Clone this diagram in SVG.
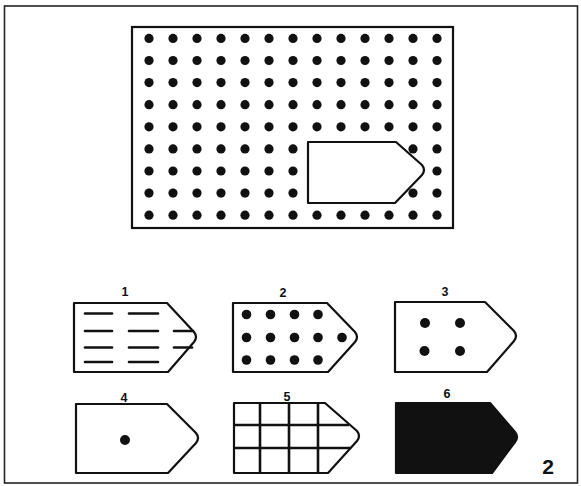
<svg xmlns="http://www.w3.org/2000/svg" width="581" height="486" viewBox="0 0 581 486">
<style>
.frame{fill:none;stroke:#222;stroke-width:1.6}
.box{fill:#fff;stroke:#111;stroke-width:2.2}
.shape{fill:#fff;stroke:#111;stroke-width:2.2;stroke-linejoin:round}
.solid{fill:#111;stroke:#111;stroke-width:2.2;stroke-linejoin:round}
.dot{fill:#111}
.dash{stroke:#111;stroke-width:2.6;stroke-linecap:round}
.grid{stroke:#111;stroke-width:2.6}
.lbl{font-family:"Liberation Sans",Arial,sans-serif;font-weight:bold;font-size:12.5px;fill:#111;text-anchor:middle}
.big{font-family:"Liberation Sans",Arial,sans-serif;font-weight:bold;font-size:21px;fill:#111;text-anchor:middle}
</style>
<rect class="frame" x="4.5" y="6" width="573" height="477"/>
<g id="main-board">
<rect class="box" x="132" y="27" width="321" height="201"/>
<g id="main-dots">
<circle class="dot" cx="149" cy="38.4" r="4.6"/><circle class="dot" cx="173" cy="38.4" r="4.6"/><circle class="dot" cx="197" cy="38.4" r="4.6"/><circle class="dot" cx="221" cy="38.4" r="4.6"/><circle class="dot" cx="245" cy="38.4" r="4.6"/><circle class="dot" cx="269" cy="38.4" r="4.6"/><circle class="dot" cx="293" cy="38.4" r="4.6"/><circle class="dot" cx="317" cy="38.4" r="4.6"/><circle class="dot" cx="341" cy="38.4" r="4.6"/><circle class="dot" cx="365" cy="38.4" r="4.6"/><circle class="dot" cx="389" cy="38.4" r="4.6"/><circle class="dot" cx="413" cy="38.4" r="4.6"/><circle class="dot" cx="437" cy="38.4" r="4.6"/>
<circle class="dot" cx="149" cy="60.5" r="4.6"/><circle class="dot" cx="173" cy="60.5" r="4.6"/><circle class="dot" cx="197" cy="60.5" r="4.6"/><circle class="dot" cx="221" cy="60.5" r="4.6"/><circle class="dot" cx="245" cy="60.5" r="4.6"/><circle class="dot" cx="269" cy="60.5" r="4.6"/><circle class="dot" cx="293" cy="60.5" r="4.6"/><circle class="dot" cx="317" cy="60.5" r="4.6"/><circle class="dot" cx="341" cy="60.5" r="4.6"/><circle class="dot" cx="365" cy="60.5" r="4.6"/><circle class="dot" cx="389" cy="60.5" r="4.6"/><circle class="dot" cx="413" cy="60.5" r="4.6"/><circle class="dot" cx="437" cy="60.5" r="4.6"/>
<circle class="dot" cx="149" cy="82.6" r="4.6"/><circle class="dot" cx="173" cy="82.6" r="4.6"/><circle class="dot" cx="197" cy="82.6" r="4.6"/><circle class="dot" cx="221" cy="82.6" r="4.6"/><circle class="dot" cx="245" cy="82.6" r="4.6"/><circle class="dot" cx="269" cy="82.6" r="4.6"/><circle class="dot" cx="293" cy="82.6" r="4.6"/><circle class="dot" cx="317" cy="82.6" r="4.6"/><circle class="dot" cx="341" cy="82.6" r="4.6"/><circle class="dot" cx="365" cy="82.6" r="4.6"/><circle class="dot" cx="389" cy="82.6" r="4.6"/><circle class="dot" cx="413" cy="82.6" r="4.6"/><circle class="dot" cx="437" cy="82.6" r="4.6"/>
<circle class="dot" cx="149" cy="104.7" r="4.6"/><circle class="dot" cx="173" cy="104.7" r="4.6"/><circle class="dot" cx="197" cy="104.7" r="4.6"/><circle class="dot" cx="221" cy="104.7" r="4.6"/><circle class="dot" cx="245" cy="104.7" r="4.6"/><circle class="dot" cx="269" cy="104.7" r="4.6"/><circle class="dot" cx="293" cy="104.7" r="4.6"/><circle class="dot" cx="317" cy="104.7" r="4.6"/><circle class="dot" cx="341" cy="104.7" r="4.6"/><circle class="dot" cx="365" cy="104.7" r="4.6"/><circle class="dot" cx="389" cy="104.7" r="4.6"/><circle class="dot" cx="413" cy="104.7" r="4.6"/><circle class="dot" cx="437" cy="104.7" r="4.6"/>
<circle class="dot" cx="149" cy="126.8" r="4.6"/><circle class="dot" cx="173" cy="126.8" r="4.6"/><circle class="dot" cx="197" cy="126.8" r="4.6"/><circle class="dot" cx="221" cy="126.8" r="4.6"/><circle class="dot" cx="245" cy="126.8" r="4.6"/><circle class="dot" cx="269" cy="126.8" r="4.6"/><circle class="dot" cx="293" cy="126.8" r="4.6"/><circle class="dot" cx="317" cy="126.8" r="4.6"/><circle class="dot" cx="341" cy="126.8" r="4.6"/><circle class="dot" cx="365" cy="126.8" r="4.6"/><circle class="dot" cx="389" cy="126.8" r="4.6"/><circle class="dot" cx="413" cy="126.8" r="4.6"/><circle class="dot" cx="437" cy="126.8" r="4.6"/>
<circle class="dot" cx="149" cy="148.9" r="4.6"/><circle class="dot" cx="173" cy="148.9" r="4.6"/><circle class="dot" cx="197" cy="148.9" r="4.6"/><circle class="dot" cx="221" cy="148.9" r="4.6"/><circle class="dot" cx="245" cy="148.9" r="4.6"/><circle class="dot" cx="269" cy="148.9" r="4.6"/><circle class="dot" cx="293" cy="148.9" r="4.6"/><circle class="dot" cx="317" cy="148.9" r="4.6"/><circle class="dot" cx="341" cy="148.9" r="4.6"/><circle class="dot" cx="365" cy="148.9" r="4.6"/><circle class="dot" cx="389" cy="148.9" r="4.6"/><circle class="dot" cx="413" cy="148.9" r="4.6"/><circle class="dot" cx="437" cy="148.9" r="4.6"/>
<circle class="dot" cx="149" cy="171" r="4.6"/><circle class="dot" cx="173" cy="171" r="4.6"/><circle class="dot" cx="197" cy="171" r="4.6"/><circle class="dot" cx="221" cy="171" r="4.6"/><circle class="dot" cx="245" cy="171" r="4.6"/><circle class="dot" cx="269" cy="171" r="4.6"/><circle class="dot" cx="293" cy="171" r="4.6"/><circle class="dot" cx="317" cy="171" r="4.6"/><circle class="dot" cx="341" cy="171" r="4.6"/><circle class="dot" cx="365" cy="171" r="4.6"/><circle class="dot" cx="389" cy="171" r="4.6"/><circle class="dot" cx="413" cy="171" r="4.6"/><circle class="dot" cx="437" cy="171" r="4.6"/>
<circle class="dot" cx="149" cy="193.1" r="4.6"/><circle class="dot" cx="173" cy="193.1" r="4.6"/><circle class="dot" cx="197" cy="193.1" r="4.6"/><circle class="dot" cx="221" cy="193.1" r="4.6"/><circle class="dot" cx="245" cy="193.1" r="4.6"/><circle class="dot" cx="269" cy="193.1" r="4.6"/><circle class="dot" cx="293" cy="193.1" r="4.6"/><circle class="dot" cx="317" cy="193.1" r="4.6"/><circle class="dot" cx="341" cy="193.1" r="4.6"/><circle class="dot" cx="365" cy="193.1" r="4.6"/><circle class="dot" cx="389" cy="193.1" r="4.6"/><circle class="dot" cx="413" cy="193.1" r="4.6"/><circle class="dot" cx="437" cy="193.1" r="4.6"/>
<circle class="dot" cx="149" cy="215.2" r="4.6"/><circle class="dot" cx="173" cy="215.2" r="4.6"/><circle class="dot" cx="197" cy="215.2" r="4.6"/><circle class="dot" cx="221" cy="215.2" r="4.6"/><circle class="dot" cx="245" cy="215.2" r="4.6"/><circle class="dot" cx="269" cy="215.2" r="4.6"/><circle class="dot" cx="293" cy="215.2" r="4.6"/><circle class="dot" cx="317" cy="215.2" r="4.6"/><circle class="dot" cx="341" cy="215.2" r="4.6"/><circle class="dot" cx="365" cy="215.2" r="4.6"/><circle class="dot" cx="389" cy="215.2" r="4.6"/><circle class="dot" cx="413" cy="215.2" r="4.6"/><circle class="dot" cx="437" cy="215.2" r="4.6"/>
</g>
<path id="cutout" class="shape" d="M308,142 H396 L422,165 Q426,170 422,175 L395,203 H308 Z"/>
</g>
<g id="option-1">
<text class="lbl" x="125" y="296">1</text>
<path class="shape" d="M74,303 H167 L194,332 Q198,337 194,342 L168,372 H74 Z"/>
<line class="dash" x1="85" y1="313.5" x2="112" y2="313.5"/><line class="dash" x1="129" y1="313.5" x2="158" y2="313.5"/>
<line class="dash" x1="85" y1="331" x2="112" y2="331"/><line class="dash" x1="129" y1="331" x2="158" y2="331"/><line class="dash" x1="174" y1="331" x2="193" y2="331"/>
<line class="dash" x1="85" y1="347.5" x2="112" y2="347.5"/><line class="dash" x1="129" y1="347.5" x2="158" y2="347.5"/><line class="dash" x1="174" y1="347.5" x2="192" y2="347.5"/>
<line class="dash" x1="85" y1="362" x2="112" y2="362"/><line class="dash" x1="129" y1="362" x2="158" y2="362"/>
</g>
<g id="option-2">
<text class="lbl" x="283" y="297">2</text>
<path class="shape" d="M233,303 H327 L355,332 Q359,337 355,342 L328,372 H233 Z"/>
<circle class="dot" cx="246.5" cy="314.5" r="4.8"/><circle class="dot" cx="270.5" cy="314.5" r="4.8"/><circle class="dot" cx="294.5" cy="314.5" r="4.8"/><circle class="dot" cx="318" cy="314.5" r="4.8"/>
<circle class="dot" cx="246.5" cy="337.5" r="4.8"/><circle class="dot" cx="270.5" cy="337.5" r="4.8"/><circle class="dot" cx="294.5" cy="337.5" r="4.8"/><circle class="dot" cx="318" cy="337.5" r="4.8"/><circle class="dot" cx="342" cy="337.5" r="4.8"/>
<circle class="dot" cx="246.5" cy="360" r="4.8"/><circle class="dot" cx="270.5" cy="360" r="4.8"/><circle class="dot" cx="294.5" cy="360" r="4.8"/><circle class="dot" cx="318" cy="360" r="4.8"/>
</g>
<g id="option-3">
<text class="lbl" x="445" y="296">3</text>
<path class="shape" d="M395,302 H485 L514,331 Q518,336 514,341 L487,372 H395 Z"/>
<circle class="dot" cx="425" cy="323" r="5"/><circle class="dot" cx="460" cy="323" r="5"/>
<circle class="dot" cx="424.5" cy="351" r="5"/><circle class="dot" cx="460" cy="351" r="5"/>
</g>
<g id="option-4">
<text class="lbl" x="124" y="402">4</text>
<path class="shape" d="M76,404 H167 L196,433 Q200,438 196,443 L168,473 H76 Z"/>
<circle class="dot" cx="125" cy="440" r="5"/>
</g>
<g id="option-5">
<text class="lbl" x="287" y="401">5</text>
<path class="shape" d="M234,403 H325 L357,431 Q361,436 357,441 L328,473 H234 Z"/>
<line class="grid" x1="260" y1="403" x2="260" y2="473"/>
<line class="grid" x1="289" y1="403" x2="289" y2="473"/>
<line class="grid" x1="318" y1="403" x2="318" y2="473"/>
<line class="grid" x1="234" y1="425" x2="349" y2="425"/>
<line class="grid" x1="234" y1="448" x2="350" y2="448"/>
</g>
<g id="option-6">
<text class="lbl" x="447" y="398">6</text>
<path class="solid" d="M396,403 H490 L515,432 Q519,437 515,442 L492,473 H396 Z"/>
</g>
<text class="big" x="548" y="474">2</text>
</svg>
